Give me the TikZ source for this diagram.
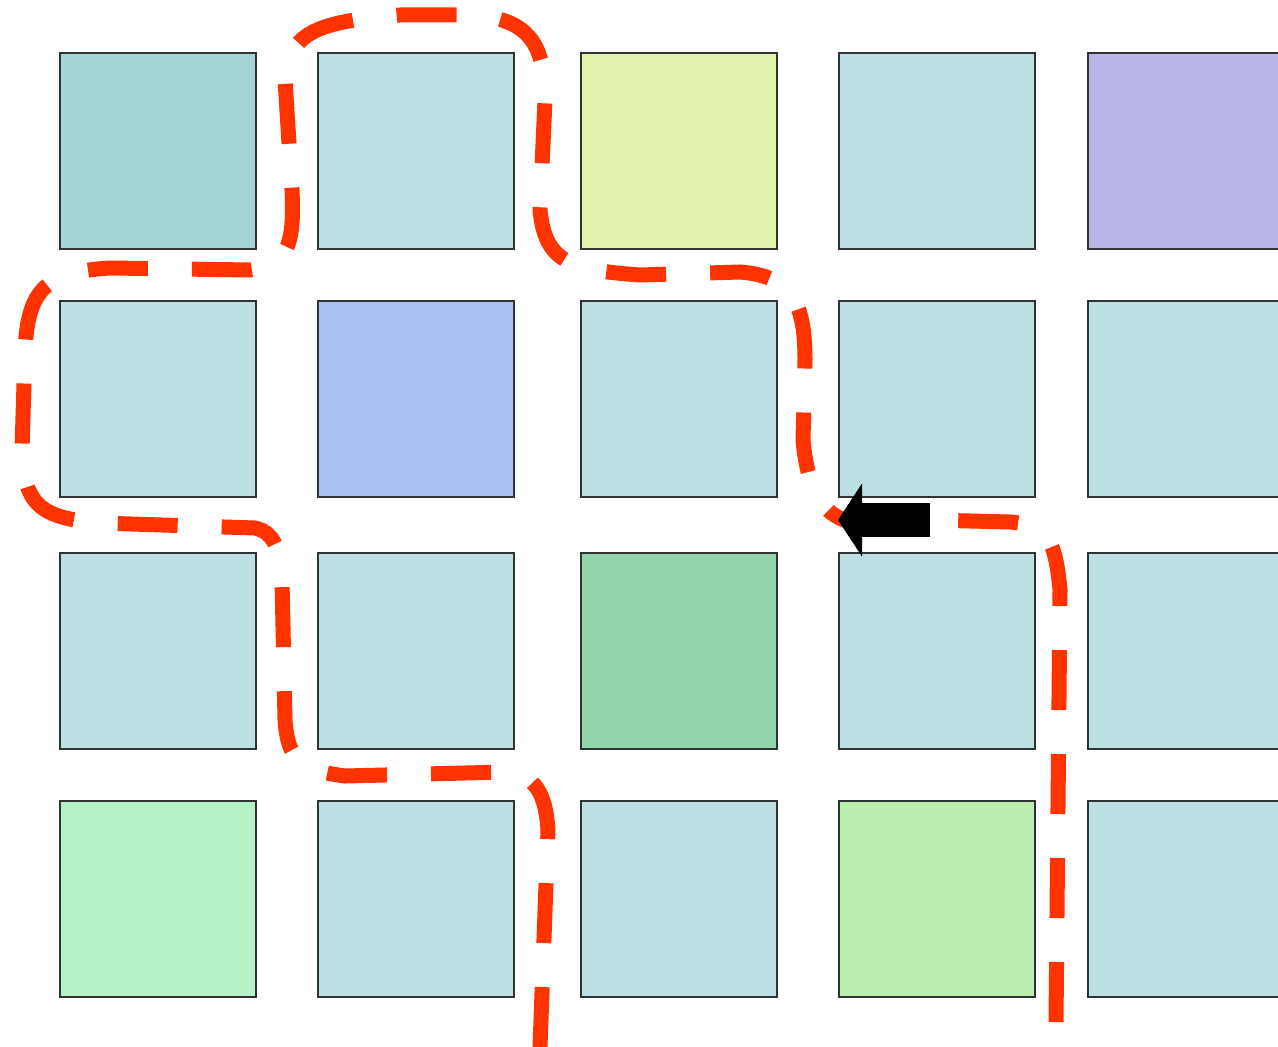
\documentclass[tikz,border=0pt]{standalone}
\usepackage{xcolor}
\usepackage{tikz}
\usetikzlibrary{arrows.meta}

\definecolor{cellbase}{HTML}{BCE0E3}
\definecolor{celltealdk}{HTML}{A3D4D8}
\definecolor{cellyellow}{HTML}{E1F2AC}
\definecolor{cellpurple}{HTML}{B8B4E7}
\definecolor{cellblue}{HTML}{ABC1F3}
\definecolor{cellgreen}{HTML}{92D5AB}
\definecolor{cellmint}{HTML}{B5F2C5}
\definecolor{cellpale}{HTML}{BCEEB0}
\definecolor{cellline}{HTML}{2F3333}
\definecolor{routered}{HTML}{FF3300}

\begin{document}
\begin{tikzpicture}[x=0.5pt, y=-0.5pt,
    cell/.style={draw=cellline, line width=1pt, minimum size=98pt, inner sep=0pt},
    route/.style={draw=routered, line width=7.5pt, dash pattern=on 30pt off 22pt}]
  \useasboundingbox (0,0) rectangle (1278,1047);
  \clip (0,0) rectangle (1278,1047);

  % grid of cells, one row per loop
  \foreach \c/\x/\col in {0/158/celltealdk,1/416/cellbase,2/678.5/cellyellow,3/936.5/cellbase,4/1186/cellpurple}
    \node[cell, fill=\col] (c0\c) at (\x,151) {};
  \foreach \c/\x/\col in {0/158/cellbase,1/416/cellblue,2/678.5/cellbase,3/936.5/cellbase,4/1186/cellbase}
    \node[cell, fill=\col] (c1\c) at (\x,399) {};
  \foreach \c/\x/\col in {0/158/cellbase,1/416/cellbase,2/678.5/cellgreen,3/936.5/cellbase,4/1186/cellbase}
    \node[cell, fill=\col] (c2\c) at (\x,651) {};
  \foreach \c/\x/\col in {0/158/cellmint,1/416/cellbase,2/678.5/cellbase,3/936.5/cellpale,4/1186/cellbase}
    \node[cell, fill=\col] (c3\c) at (\x,899) {};

  % long winding route
  \draw[route] (540,1047) -- (548,830)
    .. controls (545,785) and (530,775) .. (505,772) -- (345,776)
    .. controls (300,770) and (288,760) .. (285,720) -- (282,580)
    .. controls (280,545) and (272,532) .. (255,528) -- (100,523)
    .. controls (40,518) and (24,505) .. (22,450) -- (25,350)
    .. controls (28,290) and (45,272) .. (110,268) -- (250,270)
    .. controls (285,265) and (295,250) .. (292,190) -- (285,80)
    .. controls (290,35) and (310,22) .. (400,15) -- (470,15)
    .. controls (530,18) and (545,45) .. (545,100) -- (540,210)
    .. controls (545,262) and (570,270) .. (640,275) -- (740,272)
    .. controls (790,276) and (805,300) .. (805,360) -- (803,440)
    .. controls (808,495) and (825,515) .. (850,522);

  % short route from the right
  \draw[route] (1056,1022) -- (1060,590)
    .. controls (1055,535) and (1045,525) .. (1010,522) -- (930,520);

  \coordinate (tailpt) at (930,520);
  \coordinate (tippt) at (838,520);
  \draw[line width=17pt, -{Triangle[length=12pt, width=36pt]}] (tailpt) -- (tippt);
\end{tikzpicture}
\end{document}
